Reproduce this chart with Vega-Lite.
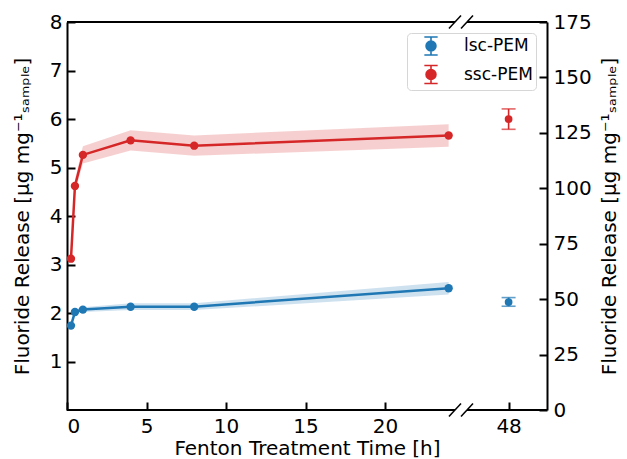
{
  "$schema": "https://vega.github.io/schema/vega-lite/v6.json",
  "width": 480,
  "height": 388,
  "autosize": {"type": "none"},
  "padding": {"left": 67, "top": 22, "right": 80, "bottom": 49},
  "background": "white",
  "config": {
    "font": "DejaVu Sans",
    "view": {"stroke": null},
    "axis": {
      "grid": false,
      "domainColor": "black",
      "domainWidth": 2,
      "tickColor": "black",
      "tickWidth": 2,
      "labelFont": "DejaVu Sans",
      "labelFontSize": 20,
      "labelColor": "black",
      "titleFont": "DejaVu Sans",
      "titleFontSize": 20,
      "titleFontWeight": "normal",
      "titleColor": "black"
    }
  },
  "datasets": {
    "series": [
      {"series": "lsc-PEM", "t": 0.25, "v": 1.74, "lo": 1.70, "hi": 1.78},
      {"series": "lsc-PEM", "t": 0.5, "v": 2.02, "lo": 1.97, "hi": 2.07},
      {"series": "lsc-PEM", "t": 1, "v": 2.07, "lo": 2.02, "hi": 2.12},
      {"series": "lsc-PEM", "t": 4, "v": 2.13, "lo": 2.06, "hi": 2.20},
      {"series": "lsc-PEM", "t": 8, "v": 2.13, "lo": 2.06, "hi": 2.20},
      {"series": "lsc-PEM", "t": 24, "v": 2.51, "lo": 2.38, "hi": 2.64},
      {"series": "ssc-PEM", "t": 0.25, "v": 3.12, "lo": 3.07, "hi": 3.17},
      {"series": "ssc-PEM", "t": 0.5, "v": 4.62, "lo": 4.50, "hi": 4.74},
      {"series": "ssc-PEM", "t": 1, "v": 5.26, "lo": 5.08, "hi": 5.44},
      {"series": "ssc-PEM", "t": 4, "v": 5.56, "lo": 5.35, "hi": 5.77},
      {"series": "ssc-PEM", "t": 8, "v": 5.45, "lo": 5.24, "hi": 5.66},
      {"series": "ssc-PEM", "t": 24, "v": 5.66, "lo": 5.43, "hi": 5.89}
    ],
    "final": [
      {"series": "lsc-PEM", "t": 48, "v": 48.7, "lo": 46.8, "hi": 50.7},
      {"series": "ssc-PEM", "t": 48, "v": 131.2, "lo": 126.6, "hi": 135.8}
    ],
    "frame": [
      {"t": 0, "t2": 24.4, "v": 0},
      {"t": 0, "t2": 24.4, "v": 8},
      {"t": 45.4, "t2": 50.4, "v": 0},
      {"t": 45.4, "t2": 50.4, "v": 8}
    ],
    "breaks": [
      {"t": 24.02, "t2": 34.9, "v": -0.134, "v2": 0.134},
      {"t": 34.9, "t2": 45.775, "v": -0.134, "v2": 0.134},
      {"t": 24.02, "t2": 34.9, "v": 7.866, "v2": 8.134},
      {"t": 34.9, "t2": 45.775, "v": 7.866, "v2": 8.134}
    ]
  },
  "encoding": {
    "x": {
      "field": "t",
      "type": "quantitative",
      "scale": {"domain": [0, 24.4, 45.4, 50.4], "range": [0, 388, 400, 480], "nice": false, "zero": false},
      "axis": {
        "values": [0, 5, 10, 15, 20, 48],
        "domain": false,
        "tickSize": -8,
        "labelPadding": 14,
        "titlePadding": 2,
        "title": "Fenton Treatment Time [h]"
      }
    }
  },
  "layer": [
    {
      "encoding": {
        "y": {
          "field": "v",
          "type": "quantitative",
          "scale": {"domain": [0, 8], "nice": false, "zero": false},
          "axis": {
            "orient": "left",
            "values": [1, 2, 3, 4, 5, 6, 7, 8],
            "tickSize": -8,
            "labelPadding": 13,
            "titlePadding": 17,
            "title": "Fluoride Release [μg mg⁻¹ₛₐₘₚₗₑ]"
          }
        },
        "color": {
          "field": "series",
          "type": "nominal",
          "scale": {"domain": ["lsc-PEM", "ssc-PEM"], "range": ["#1f77b4", "#d62728"]},
          "legend": {
            "title": null,
            "orient": "top-right",
            "offset": 11,
            "symbolType": "M-0.74,-1H0.74M0,-1V1M-0.74,1H0.74M-0.55,0A0.55,0.55 0 1,0 0.55,0A0.55,0.55 0 1,0 -0.55,0Z",
            "symbolSize": 324,
            "symbolStrokeWidth": 1.6,
            "symbolOpacity": 1,
            "symbolOffset": 11,
            "labelFont": "DejaVu Sans",
            "labelFontSize": 17,
            "labelColor": "black",
            "labelOffset": 23,
            "rowPadding": 2.5,
            "padding": 3,
            "fillColor": "rgba(255,255,255,0.85)",
            "strokeColor": "#d6d6d6",
            "cornerRadius": 4,
            "encode": {
              "symbols": {
                "update": {
                  "fill": {"scale": "color", "field": "value"},
                  "stroke": {"scale": "color", "field": "value"},
                  "opacity": {"value": 1}
                }
              }
            }
          }
        }
      },
      "layer": [
        {
          "data": {"name": "series"},
          "mark": {"type": "area", "opacity": 0.22},
          "encoding": {
            "y": {"field": "lo", "type": "quantitative"},
            "y2": {"field": "hi"}
          }
        },
        {
          "data": {"name": "series"},
          "mark": {"type": "line", "strokeWidth": 2.5}
        },
        {
          "data": {"name": "series"},
          "mark": {"type": "point", "filled": true, "size": 70, "opacity": 1}
        },
        {
          "data": {"name": "frame"},
          "mark": {"type": "rule", "color": "black", "strokeWidth": 2},
          "encoding": {
            "x2": {"field": "t2"},
            "color": {"value": "black"}
          }
        },
        {
          "data": {"name": "breaks"},
          "mark": {"type": "rule", "color": "black", "strokeWidth": 1.5},
          "encoding": {
            "x2": {"field": "t2"},
            "y2": {"field": "v2"},
            "color": {"value": "black"}
          }
        }
      ]
    },
    {
      "data": {"name": "final"},
      "encoding": {
        "y": {
          "field": "v",
          "type": "quantitative",
          "scale": {"domain": [0, 175], "nice": false, "zero": false},
          "axis": {
            "orient": "right",
            "values": [0, 25, 50, 75, 100, 125, 150, 175],
            "tickSize": -8,
            "labelPadding": 14,
            "titlePadding": 8,
            "titleAngle": 270,
            "titleBaseline": "top",
            "title": "Fluoride Release [μg mg⁻¹ₛₐₘₚₗₑ]"
          }
        },
        "color": {"field": "series", "type": "nominal"}
      },
      "layer": [
        {
          "mark": {"type": "rule", "strokeWidth": 1.6},
          "encoding": {
            "y": {"field": "lo", "type": "quantitative"},
            "y2": {"field": "hi"}
          }
        },
        {
          "mark": {"type": "tick", "orient": "horizontal", "size": 14, "thickness": 1.6},
          "encoding": {
            "y": {"field": "lo", "type": "quantitative"}
          }
        },
        {
          "mark": {"type": "tick", "orient": "horizontal", "size": 14, "thickness": 1.6},
          "encoding": {
            "y": {"field": "hi", "type": "quantitative"}
          }
        },
        {
          "mark": {"type": "point", "filled": true, "size": 60, "opacity": 1}
        }
      ]
    }
  ],
  "resolve": {"scale": {"y": "independent"}}
}
